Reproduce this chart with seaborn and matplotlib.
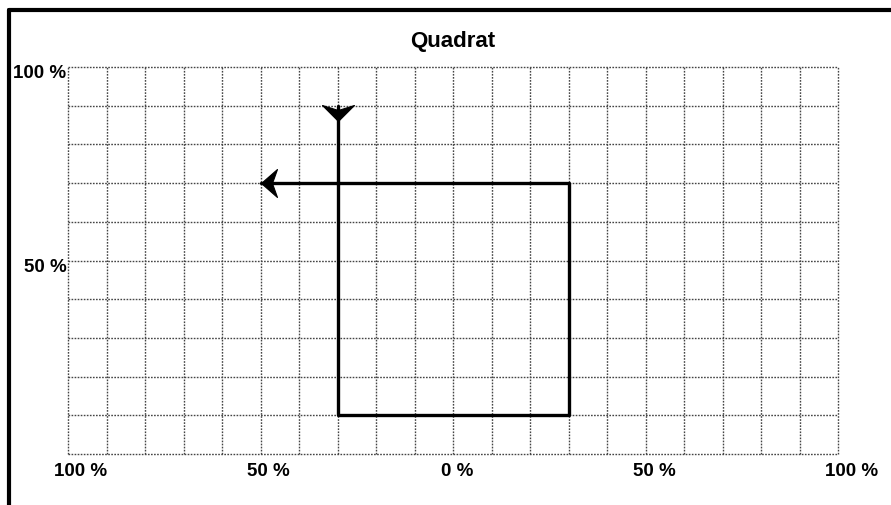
import numpy as np
import matplotlib
matplotlib.use('Agg')
import matplotlib.pyplot as plt
import matplotlib.transforms as mtransforms
from matplotlib.path import Path
from matplotlib.lines import Line2D
import seaborn as sns

# path of the moves inside the quadrat (in %)
path_x = [-30, -30, 30, 30, -50]
path_y = [90, 10, 10, 70, 70]

x_ticks = [-100, -50, 0, 50, 100]
x_labels = ['100 %', '50 %', '0 %', '50 %', '100 %']
y_ticks = [50, 100]
y_labels = ['50 %', '100 %']
title = 'Quadrat'

sns.set_style('white')
plt.rcParams['font.family'] = ['Liberation Sans', 'DejaVu Sans']
plt.rcParams['text.color'] = 'black'
plt.rcParams['xtick.color'] = 'black'
plt.rcParams['ytick.color'] = 'black'

fig = plt.figure(figsize=(8.91, 5.06), dpi=100)
ax = fig.add_axes([68 / 891, 1 - 455 / 506, 770 / 891, 387 / 506])

# grid every 10 %
for gx in np.arange(-100, 101, 10):
    ax.axvline(gx, color='#444444', lw=1.0, ls=(0, (1.2, 1.0)), zorder=1, clip_on=False)
for gy in np.arange(0, 101, 10):
    ax.axhline(gy, color='#444444', lw=1.0, ls=(0, (1.2, 1.0)), zorder=1, clip_on=False)

sns.lineplot(x=path_x, y=path_y, sort=False, estimator=None, color='black',
             lw=2.4, ax=ax, zorder=3)

# arrowheads: start (pointing down) and end (pointing left)
down_head = Path([(-16, 1), (0, -15), (16, 1), (0, -4), (-16, 1)],
                 [Path.MOVETO, Path.LINETO, Path.LINETO, Path.LINETO, Path.CLOSEPOLY])
left_head = Path([(0, 0), (16, 14), (11, 0), (16, -14), (0, 0)],
                 [Path.MOVETO, Path.LINETO, Path.LINETO, Path.LINETO, Path.CLOSEPOLY])
ax.plot(path_x[0], path_y[0], marker=down_head, ms=23, color='black', mew=0.8, zorder=4)
ax.plot(path_x[-1], path_y[-1], marker=left_head, ms=23, color='black', mew=0.8, zorder=4)

ax.set_xlim(-100, 100)
ax.set_ylim(0, 100)
ax.set_xticks(x_ticks)
ax.set_xticklabels(x_labels, fontsize=13.5, fontweight='bold')
ax.set_yticks(y_ticks)
ax.set_yticklabels(y_labels, fontsize=13.5, fontweight='bold')
ax.tick_params(length=0)
ax.tick_params(axis='y', pad=1)
ax.tick_params(axis='x', pad=6)

for lab, off in zip(ax.get_xticklabels(), [13, 8, 4, 9, 14]):
    lab.set_transform(lab.get_transform() +
                      mtransforms.ScaledTranslation(off / 100, 0, fig.dpi_scale_trans))
dy = mtransforms.ScaledTranslation(0, -4 / 100, fig.dpi_scale_trans)
for lab in ax.get_yticklabels():
    lab.set_transform(lab.get_transform() + dy)

for s in ax.spines.values():
    s.set_visible(False)

ax.set_title(title, fontsize=16, fontweight='bold', pad=15)

# frame around the figure (left and top)
fig.add_artist(Line2D([9 / 891, 9 / 891], [0, 1 - 11 / 506], color='black', lw=3,
                      transform=fig.transFigure))
fig.add_artist(Line2D([9 / 891, 1], [1 - 11 / 506, 1 - 11 / 506], color='black', lw=3,
                      transform=fig.transFigure))

fig.savefig('out.png', dpi=100)
